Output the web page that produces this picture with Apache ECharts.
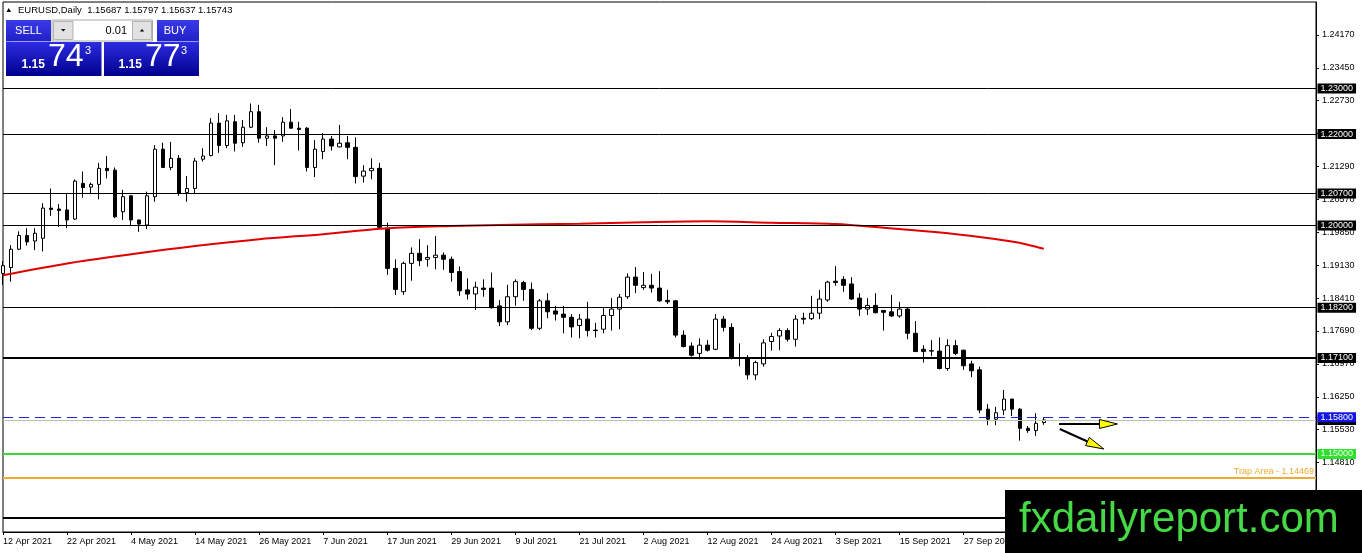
<!DOCTYPE html>
<html>
<head>
<meta charset="utf-8">
<script src="https://cdn.jsdelivr.net/npm/echarts@6.0.0/dist/echarts.min.js"></script>
<style>
html,body{margin:0;padding:0;background:#fff;}
#chart{width:1362px;height:553px;}
</style>
</head>
<body>
<div id="chart"></div>
<script>
// ---------- DATA ----------
const opens = [1.1895,1.1908,1.1948,1.1978,1.1966,1.1972,1.2038,1.2036,1.2034,1.2014,
1.2092,1.2084,1.2090,1.2125,1.2121,1.2030,1.2065,1.2012,1.2001,1.2063,
1.2167,1.2127,1.2147,1.2072,1.2081,1.2145,1.2153,1.2224,1.2175,1.2227,
1.2181,1.2215,1.2249,1.2191,1.2196,1.2196,1.2226,1.2213,1.2213,1.2127,
1.2162,1.2189,1.2172,1.2181,1.2171,1.2108,1.2120,1.2125,1.1992,1.1906,
1.1855,1.1917,1.1939,1.1926,1.1930,1.1935,1.1926,1.1899,1.1859,1.1850,
1.1863,1.1863,1.1824,1.1789,1.1844,1.1875,1.1860,1.1775,1.1835,1.1813,
1.1806,1.1799,1.1781,1.1795,1.1771,1.1773,1.1803,1.1817,1.1844,1.1887,
1.1864,1.1869,1.1863,1.1836,1.1835,1.1760,1.1736,1.1720,1.1738,1.1729,
1.1795,1.1777,1.1711,1.1711,1.1673,1.1697,1.1746,1.1758,1.1770,1.1751,
1.1797,1.1796,1.1808,1.1837,1.1878,1.1882,1.1872,1.1841,1.1817,1.1825,
1.1814,1.1811,1.1802,1.1817,1.1764,1.1729,1.1726,1.1725,1.1687,1.1737,
1.1727,1.1697,1.1684,1.1598,1.1576,1.1596,1.1620,1.1598,1.1556,1.1551,
1.15687];
const closes = [1.1912,1.1948,1.1978,1.1964,1.1983,1.2038,1.2035,1.2033,1.2012,1.2097,
1.2083,1.2090,1.2125,1.2120,1.2019,1.2063,1.2012,1.2003,1.2065,1.2167,
1.2127,1.2147,1.2070,1.2081,1.2141,1.2152,1.2224,1.2175,1.2229,1.2180,
1.2215,1.2249,1.2191,1.2196,1.2191,1.2226,1.2213,1.2210,1.2127,1.2167,
1.2189,1.2174,1.2180,1.2171,1.2107,1.2119,1.2125,1.1996,1.1906,1.1860,
1.1917,1.1939,1.1923,1.1930,1.1935,1.1926,1.1897,1.1857,1.1850,1.1865,
1.1860,1.1820,1.1789,1.1844,1.1877,1.1860,1.1775,1.1835,1.1811,1.1806,
1.1799,1.1778,1.1795,1.1770,1.1770,1.1803,1.1817,1.1843,1.1887,1.1869,
1.1869,1.1863,1.1835,1.1833,1.1760,1.1735,1.1716,1.1738,1.1727,1.1795,
1.1777,1.1709,1.1710,1.1673,1.1700,1.1743,1.1757,1.1770,1.1751,1.1795,
1.1795,1.1808,1.1839,1.1876,1.1875,1.1869,1.1839,1.1817,1.1825,1.1809,
1.1810,1.1802,1.1817,1.1764,1.1724,1.1724,1.1725,1.1687,1.1737,1.1720,
1.1693,1.1682,1.1596,1.1576,1.1590,1.1620,1.1598,1.1556,1.1551,1.1567,
1.15743];
const lows = [1.1870,1.1877,1.1946,1.1956,1.1946,1.1943,1.2021,1.1997,1.1994,1.2012,
1.2061,1.2069,1.2057,1.2103,1.2016,1.2012,1.2001,1.1986,1.1992,1.2052,
1.2126,1.2121,1.2065,1.2052,1.2070,1.2140,1.2151,1.2159,1.2169,1.2162,
1.2172,1.2213,1.2181,1.2174,1.2132,1.2183,1.2212,1.2164,1.2118,1.2106,
1.2145,1.2164,1.2171,1.2145,1.2092,1.2094,1.2101,1.1995,1.1892,1.1848,
1.1848,1.1879,1.1911,1.1910,1.1904,1.1903,1.1877,1.1846,1.1838,1.1815,
1.1844,1.1818,1.1780,1.1782,1.1824,1.1835,1.1771,1.1771,1.1797,1.1792,
1.1764,1.1755,1.1753,1.1757,1.1755,1.1764,1.1770,1.1773,1.1839,1.1852,
1.1859,1.1853,1.1833,1.1828,1.1755,1.1733,1.1713,1.1707,1.1724,1.1727,
1.1768,1.1707,1.1692,1.1663,1.1662,1.1691,1.1726,1.1727,1.1746,1.1735,
1.1784,1.1793,1.1795,1.1833,1.1868,1.1855,1.1837,1.1802,1.1804,1.1808,
1.1770,1.1800,1.1798,1.1751,1.1723,1.1700,1.1714,1.1685,1.1682,1.1716,
1.1684,1.1668,1.1589,1.1563,1.1563,1.1585,1.1583,1.1529,1.1546,1.1539,
1.15637];
const highs = [1.1922,1.1957,1.1987,1.1994,1.1994,1.2049,1.2081,1.2047,1.2070,1.2101,
1.2118,1.2094,1.2137,1.2152,1.2127,1.2078,1.2066,1.2013,1.2074,1.2176,
1.2181,1.2183,1.2154,1.2108,1.2148,1.2169,1.2235,1.2246,1.2242,1.2242,
1.2231,1.2267,1.2264,1.2215,1.2209,1.2237,1.2255,1.2227,1.2215,1.2187,
1.2202,1.2196,1.2220,1.2196,1.2193,1.2132,1.2147,1.2137,1.2006,1.1926,
1.1921,1.1952,1.1970,1.1957,1.1977,1.1941,1.1932,1.1910,1.1884,1.1877,
1.1882,1.1897,1.1837,1.1870,1.1882,1.1879,1.1875,1.1839,1.1852,1.1824,
1.1824,1.1806,1.1806,1.1833,1.1787,1.1819,1.1841,1.1850,1.1895,1.1909,
1.1898,1.1894,1.1900,1.1859,1.1837,1.1770,1.1744,1.1753,1.1749,1.1806,
1.1802,1.1786,1.1742,1.1716,1.1704,1.1751,1.1765,1.1775,1.1775,1.1804,
1.1809,1.1846,1.1859,1.1879,1.1911,1.1889,1.1887,1.1852,1.1841,1.1852,
1.1815,1.1848,1.1833,1.1819,1.1791,1.1738,1.1749,1.1755,1.1751,1.1749,
1.1728,1.1704,1.1691,1.1609,1.1603,1.1640,1.1621,1.1600,1.1561,1.1589,
1.15797];

// moving average (red line) read at sample bars
const maIndex  = [0,8,16,24,32,40,48,56,62,72,80,88,96,104,110,116,122,126,128,130];
const maValues = [1.1891,1.1917,1.1937,1.1955,1.1970,1.1981,1.1994,1.1999,1.2001,1.2004,
                  1.2007,1.2009,1.2006,1.2003,1.1995,1.1986,1.1975,1.1965,1.1958,1.1949];

// y-axis tick labels
const yTicks = [1.13370,1.14090,1.14810,1.15530,1.16250,1.16970,1.17690,1.18410,
                1.19130,1.19850,1.20570,1.21290,1.22010,1.22730,1.23450,1.24170];

// horizontal levels
const blackLevels = [1.23000,1.22000,1.20700,1.20000,1.18200];
const thickLevels = [1.17100,1.13600];
const bidLevel = 1.15743;
const dashLevel = 1.15800;
const greenLevel = 1.15000;
const trapLevel = 1.14469;

// arrows: [fromBar, fromPrice, toBar, toPrice]
const arrows = [[131.9,1.15655,139.2,1.15655],[132.0,1.15546,137.5,1.15108]];

// header / panel values
const headerOHLC = [1.15687,1.15797,1.15637,1.15743];
const sellParts = ['1.15','74','3'];
const buyParts  = ['1.15','77','3'];
const lotSize = '0.01';

// categories: trading days from 12 Apr 2021
const monthNames = ['Jan','Feb','Mar','Apr','May','Jun','Jul','Aug','Sep','Oct','Nov','Dec'];
const TOTAL_BARS = 165;
const dates = [];
(function(){
  let t = Date.UTC(2021,3,12);
  while (dates.length < TOTAL_BARS) {
    const d = new Date(t);
    const wd = d.getUTCDay();
    if (wd !== 0 && wd !== 6) dates.push(d.getUTCDate()+' '+monthNames[d.getUTCMonth()]+' '+d.getUTCFullYear());
    t += 86400000;
  }
})();

// ---------- CHART ----------
const FONT = '"Liberation Sans", Arial, sans-serif';
const chart = echarts.init(document.getElementById('chart'), null, {renderer:'canvas'});
const candleData = opens.map((o,i)=>[o, closes[i], lows[i], highs[i]]);
const maData = maIndex.map((x,i)=>[x, maValues[i]]);

function boxLabel(v, bg, fg){
  return {show:true, position:'end', distance:1.5, formatter:v.toFixed(5),
    backgroundColor:bg, color:fg, fontSize:9, fontFamily:FONT, lineHeight:9, padding:[1,3,0,3]};
}
const markData = [];
blackLevels.forEach(v=>markData.push({yAxis:v, lineStyle:{color:'#000',width:1,type:'solid'}, label:boxLabel(v,'#000','#fff')}));
thickLevels.forEach(v=>markData.push({yAxis:v, lineStyle:{color:'#000',width:2,type:'solid'}, label:boxLabel(v,'#000','#fff')}));
markData.push({yAxis:bidLevel, lineStyle:{color:'#c0c0c0',width:1,type:'solid'}, label:boxLabel(bidLevel,'#000','#fff')});
markData.push({yAxis:dashLevel, lineStyle:{color:'#2424c8',width:1,type:[10,6]}, label:boxLabel(dashLevel,'#1414e6','#fff')});
markData.push({yAxis:greenLevel, lineStyle:{color:'#3ad63a',width:2,type:'solid'}, label:boxLabel(greenLevel,'#2ee02e','#f0fff0')});
markData.push({yAxis:trapLevel, lineStyle:{color:'#eeaa33',width:2,type:'solid'},
  label:{show:true, position:'insideEndTop', distance:2, formatter:'Trap Area - '+trapLevel.toFixed(5),
    color:'#eeaa33', fontSize:9, fontFamily:FONT}});

const grad = (c1,c2)=>new echarts.graphic.LinearGradient(0,0,0,1,[{offset:0,color:c1},{offset:1,color:c2}]);

const graphics = [
  {type:'polygon', z:100, shape:{points:[[6.5,12],[11,12],[8.75,8]]}, style:{fill:'#000'}},
  {type:'text', z:100, x:18, y:10.5, style:{text:'EURUSD,Daily  '+headerOHLC.map(v=>v.toFixed(5)).join(' '),
    fill:'#000', font:'9.5px '+FONT, verticalAlign:'middle', align:'left'}},
  // SELL
  {type:'rect', z:100, shape:{x:6,y:20,width:45,height:21.5}, style:{fill:grad('#3a3aea','#2020c8')}},
  {type:'line', z:101, shape:{x1:10,y1:41.5,x2:48,y2:41.5}, style:{stroke:'#9a9aff',lineWidth:1}},
  {type:'text', z:101, x:28.5, y:31, style:{text:'SELL', fill:'#fff', font:'11px '+FONT, align:'center', verticalAlign:'middle'}},
  {type:'rect', z:100, shape:{x:6,y:42,width:95.5,height:34}, style:{fill:grad('#2c2ce2','#00008c')}},
  {type:'text', z:101, x:21.5, y:71, style:{text:sellParts[0], fill:'#fff', font:'bold 12px '+FONT, align:'left', verticalAlign:'bottom'}},
  {type:'text', z:101, x:48, y:73.5, style:{text:sellParts[1], fill:'#fff', font:'32px '+FONT, align:'left', verticalAlign:'bottom'}},
  {type:'text', z:101, x:85, y:45.5, style:{text:sellParts[2], fill:'#fff', font:'11px '+FONT, align:'left', verticalAlign:'top'}},
  // lot box
  {type:'rect', z:100, shape:{x:52,y:20,width:100.5,height:21}, style:{fill:'#fff', stroke:'#a8a8a8', lineWidth:1}},
  {type:'rect', z:101, shape:{x:53.5,y:21.5,width:19.5,height:18}, style:{fill:'#e2e2e2', stroke:'#b4b4b4', lineWidth:1}},
  {type:'polygon', z:102, shape:{points:[[61,29],[65.5,29],[63.25,31.5]]}, style:{fill:'#000'}},
  {type:'rect', z:101, shape:{x:132.5,y:21.5,width:19,height:18}, style:{fill:'#e2e2e2', stroke:'#b4b4b4', lineWidth:1}},
  {type:'polygon', z:102, shape:{points:[[139.8,31.5],[144.2,31.5],[142,29]]}, style:{fill:'#000'}},
  {type:'text', z:101, x:127, y:30.5, style:{text:lotSize, fill:'#000', font:'11px '+FONT, align:'right', verticalAlign:'middle'}},
  // BUY
  {type:'rect', z:100, shape:{x:157,y:20,width:42,height:21.5}, style:{fill:grad('#3a3aea','#2020c8')}},
  {type:'line', z:101, shape:{x1:157,y1:41.5,x2:195,y2:41.5}, style:{stroke:'#9a9aff',lineWidth:1}},
  {type:'text', z:101, x:175, y:31, style:{text:'BUY', fill:'#fff', font:'11px '+FONT, align:'center', verticalAlign:'middle'}},
  {type:'rect', z:100, shape:{x:104,y:42,width:95,height:34}, style:{fill:grad('#2c2ce2','#00008c')}},
  {type:'text', z:101, x:118.5, y:71, style:{text:buyParts[0], fill:'#fff', font:'bold 12px '+FONT, align:'left', verticalAlign:'bottom'}},
  {type:'text', z:101, x:145, y:73.5, style:{text:buyParts[1], fill:'#fff', font:'32px '+FONT, align:'left', verticalAlign:'bottom'}},
  {type:'text', z:101, x:181, y:45.5, style:{text:buyParts[2], fill:'#fff', font:'11px '+FONT, align:'left', verticalAlign:'top'}},
  // watermark
  {type:'rect', z:200, shape:{x:1005,y:490,width:357,height:63}, style:{fill:'#000'}},
  {type:'text', z:201, x:1019, y:520, style:{text:'fxdailyreport.com', fill:'#45d945', font:'42px '+FONT, align:'left', verticalAlign:'middle'}}
];

const option = {
  animation:false,
  backgroundColor:'#fff',
  grid:{left:3, right:46, top:2, bottom:21, show:true, borderColor:'#000', borderWidth:1, backgroundColor:'#fff'},
  xAxis:[{
    type:'category', data:dates, boundaryGap:false,
    axisLine:{show:true, onZero:false, lineStyle:{color:'#000', width:1}},
    axisTick:{show:true, interval:7, length:3, lineStyle:{color:'#000'}},
    axisLabel:{interval:7, align:'left', margin:5, fontSize:9, fontFamily:FONT, color:'#000', hideOverlap:false},
    splitLine:{show:false}
  },{
    type:'value', min:0, max:TOTAL_BARS-1, show:false
  }],
  yAxis:{
    type:'value', position:'right', min:1.13291, max:1.24891,
    axisLine:{show:true, onZero:false, lineStyle:{color:'#000'}},
    axisTick:{show:true, length:3, inside:false, customValues:yTicks, lineStyle:{color:'#000'}},
    axisLabel:{customValues:yTicks, formatter:v=>v.toFixed(5), fontSize:9, fontFamily:FONT, color:'#000', margin:6},
    splitLine:{show:false}
  },
  series:[{
    type:'candlestick', xAxisIndex:0, data:candleData, barWidth:4,
    itemStyle:{color:'#fff', color0:'#000', borderColor:'#000', borderColor0:'#000', borderWidth:1},
    markLine:{silent:true, precision:5, symbol:['none','none'], animation:false, data:markData}
  },{
    type:'line', xAxisIndex:1, data:maData, showSymbol:false, smooth:0.3,
    lineStyle:{color:'#e00000', width:2}, z:3
  },{
    type:'custom', xAxisIndex:1, data:arrows, clip:false, z:5,
    renderItem:function(params, api){
      const p1 = api.coord([api.value(0), api.value(1)]);
      const p2 = api.coord([api.value(2), api.value(3)]);
      const dx = p2[0]-p1[0], dy = p2[1]-p1[1];
      const len = Math.hypot(dx,dy), ux = dx/len, uy = dy/len;
      const hl = 18, hw = 4.5;
      const bx = p2[0]-ux*hl, by = p2[1]-uy*hl;
      return {type:'group', children:[
        {type:'line', shape:{x1:p1[0],y1:p1[1],x2:bx,y2:by}, style:{stroke:'#000', lineWidth:2}},
        {type:'polygon', shape:{points:[[p2[0],p2[1]],[bx-uy*hw,by+ux*hw],[bx+uy*hw,by-ux*hw]]},
          style:{fill:'#ffff00', stroke:'#000', lineWidth:1}}
      ]};
    }
  }],
  graphic:graphics
};
chart.setOption(option);
</script>
</body>
</html>
